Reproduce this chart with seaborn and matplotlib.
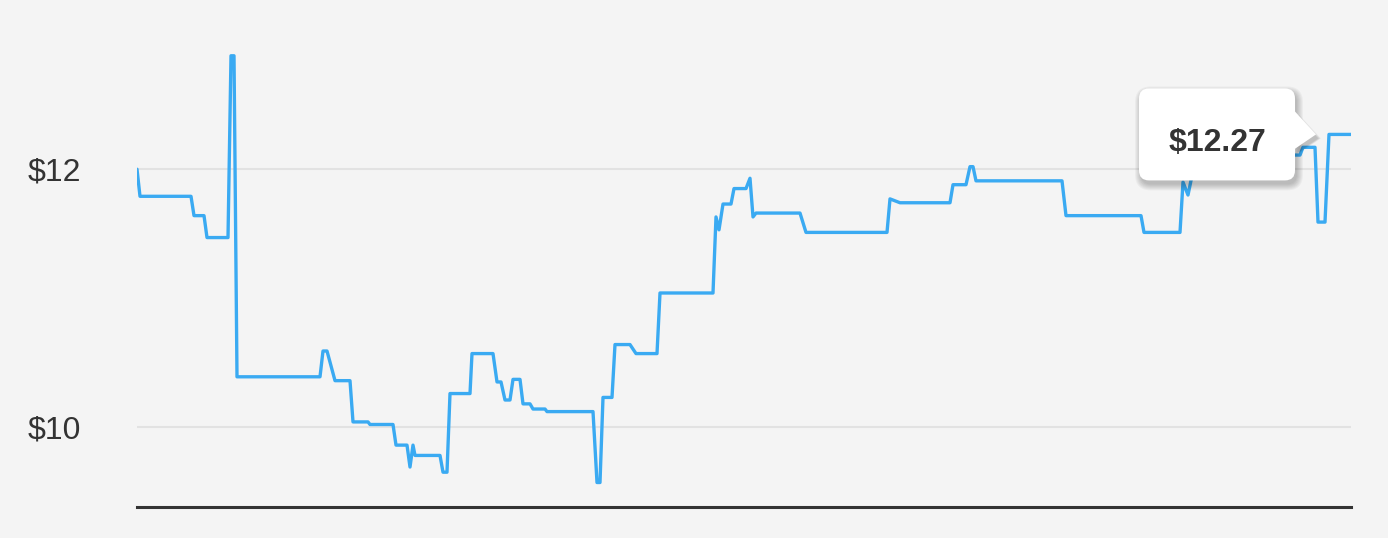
import numpy as np
import pandas as pd
import matplotlib.pyplot as plt
import seaborn as sns
from matplotlib.patches import FancyBboxPatch, Polygon
from matplotlib.transforms import Affine2D, ScaledTranslation

# price history (time in half-day steps, price in $)
t = [0, 1.5, 27, 28.5, 33.5, 35, 45.5, 47, 48.5, 50,
     91.5, 93, 95, 99, 106.5, 108, 115.5, 116.5, 128, 129.5,
     135, 136.5, 138, 139, 151.5, 153, 155, 156.5, 166.5, 167.5,
     178, 180, 182, 184, 186.5, 188, 191.5, 193, 196.5, 198,
     204, 205, 228, 230, 231.5, 233, 237.5, 239, 246.5, 249.5,
     260, 261.5, 288, 289.5, 291, 293, 297, 298.5, 304.5, 306.5,
     308, 309.5, 331.5, 334.5, 375, 376.5, 381.5, 406.5, 408, 414.5,
     416.5, 418, 419.5, 462.5, 464.5, 502, 503.5, 521.5, 523, 525.5,
     527.5, 551.5, 576.5, 581.5, 583, 589, 590.5, 594, 596, 607]
price = [12.00, 11.79, 11.79, 11.64, 11.64, 11.47, 11.47, 12.88, 12.88, 10.39,
         10.39, 10.59, 10.59, 10.36, 10.36, 10.04, 10.04, 10.02, 10.02, 9.86,
         9.86, 9.69, 9.86, 9.78, 9.78, 9.65, 9.65, 10.26, 10.26, 10.57,
         10.57, 10.35, 10.35, 10.21, 10.21, 10.37, 10.37, 10.18, 10.18, 10.14,
         10.14, 10.12, 10.12, 9.57, 9.57, 10.23, 10.23, 10.64, 10.64, 10.57,
         10.57, 11.04, 11.04, 11.63, 11.53, 11.73, 11.73, 11.85, 11.85, 11.93,
         11.63, 11.66, 11.66, 11.51, 11.51, 11.77, 11.74, 11.74, 11.88, 11.88,
         12.02, 12.02, 11.91, 11.91, 11.64, 11.64, 11.51, 11.51, 11.90, 11.80,
         11.95, 12.05, 12.11, 12.11, 12.17, 12.17, 11.59, 11.59, 12.27, 12.27]
tick_values = [10, 12]
tick_labels = ["$10", "$12"]
tooltip_label = "$12.27"

df = pd.DataFrame({"t": t, "price": price})

bg = "#f4f4f4"
sns.set_style("white", {"axes.facecolor": bg, "figure.facecolor": bg})
plt.rcParams["font.family"] = ["Liberation Sans", "DejaVu Sans"]

fig = plt.figure(figsize=(13.88, 5.38), dpi=100)
ax = fig.add_axes([137 / 1388, 31 / 538, 1214 / 1388, 477 / 538])

for v in tick_values:
    ax.axhline(v, color="#e2e2e2", lw=1.5, zorder=1)

sns.lineplot(data=df, x="t", y="price", ax=ax, color="#3aaaf2", lw=2.4,
             zorder=3, estimator=None, sort=False,
             solid_joinstyle="round", solid_capstyle="round")

ax.set_xlim(0, 607)
ax.set_ylim(9.38, 13.08)
ax.set_yticks(tick_values, tick_labels)
ax.set_xticks([])
ax.set_xlabel("")
ax.set_ylabel("")
ax.tick_params(axis="y", length=0, pad=40, labelsize=23, labelcolor="#333333")
for s in ["top", "right", "left"]:
    ax.spines[s].set_visible(False)
ax.spines["bottom"].set_color("#333333")
ax.spines["bottom"].set_linewidth(2.2)

# tooltip anchored at the last price (offsets in pixels)
tr = Affine2D() + ScaledTranslation(t[-2], price[-2], ax.transData)
box_xy, box_w, box_h = (-190, -46), 156, 92
tri = [(-35, 24), (-13, 0), (-35, -15)]
for i in range(7):
    sh = FancyBboxPatch((box_xy[0] + 2 - i, box_xy[1] - 4 - i), box_w + 2 * i, box_h + 2 * i,
                        boxstyle=f"round,pad=0,rounding_size={10 + i}",
                        fc="black", ec="none", alpha=0.035, transform=tr,
                        clip_on=False, zorder=4)
    ax.add_patch(sh)
    ax.add_patch(Polygon([(x + 2 + i * 0.5, y - 4) for x, y in tri], closed=True,
                         fc="black", ec="none", alpha=0.03, transform=tr,
                         clip_on=False, zorder=4))
ax.add_patch(FancyBboxPatch(box_xy, box_w, box_h,
                            boxstyle="round,pad=0,rounding_size=10",
                            fc="white", ec="none", transform=tr,
                            clip_on=False, zorder=5))
ax.add_patch(Polygon(tri, closed=True, fc="white", ec="none", transform=tr,
                     clip_on=False, zorder=5))
ax.text(-112, -17, tooltip_label, transform=tr, ha="center", va="baseline",
        fontsize=23, fontweight="bold", color="#333333", zorder=6)

fig.savefig("out.png", dpi=100, facecolor=bg)
